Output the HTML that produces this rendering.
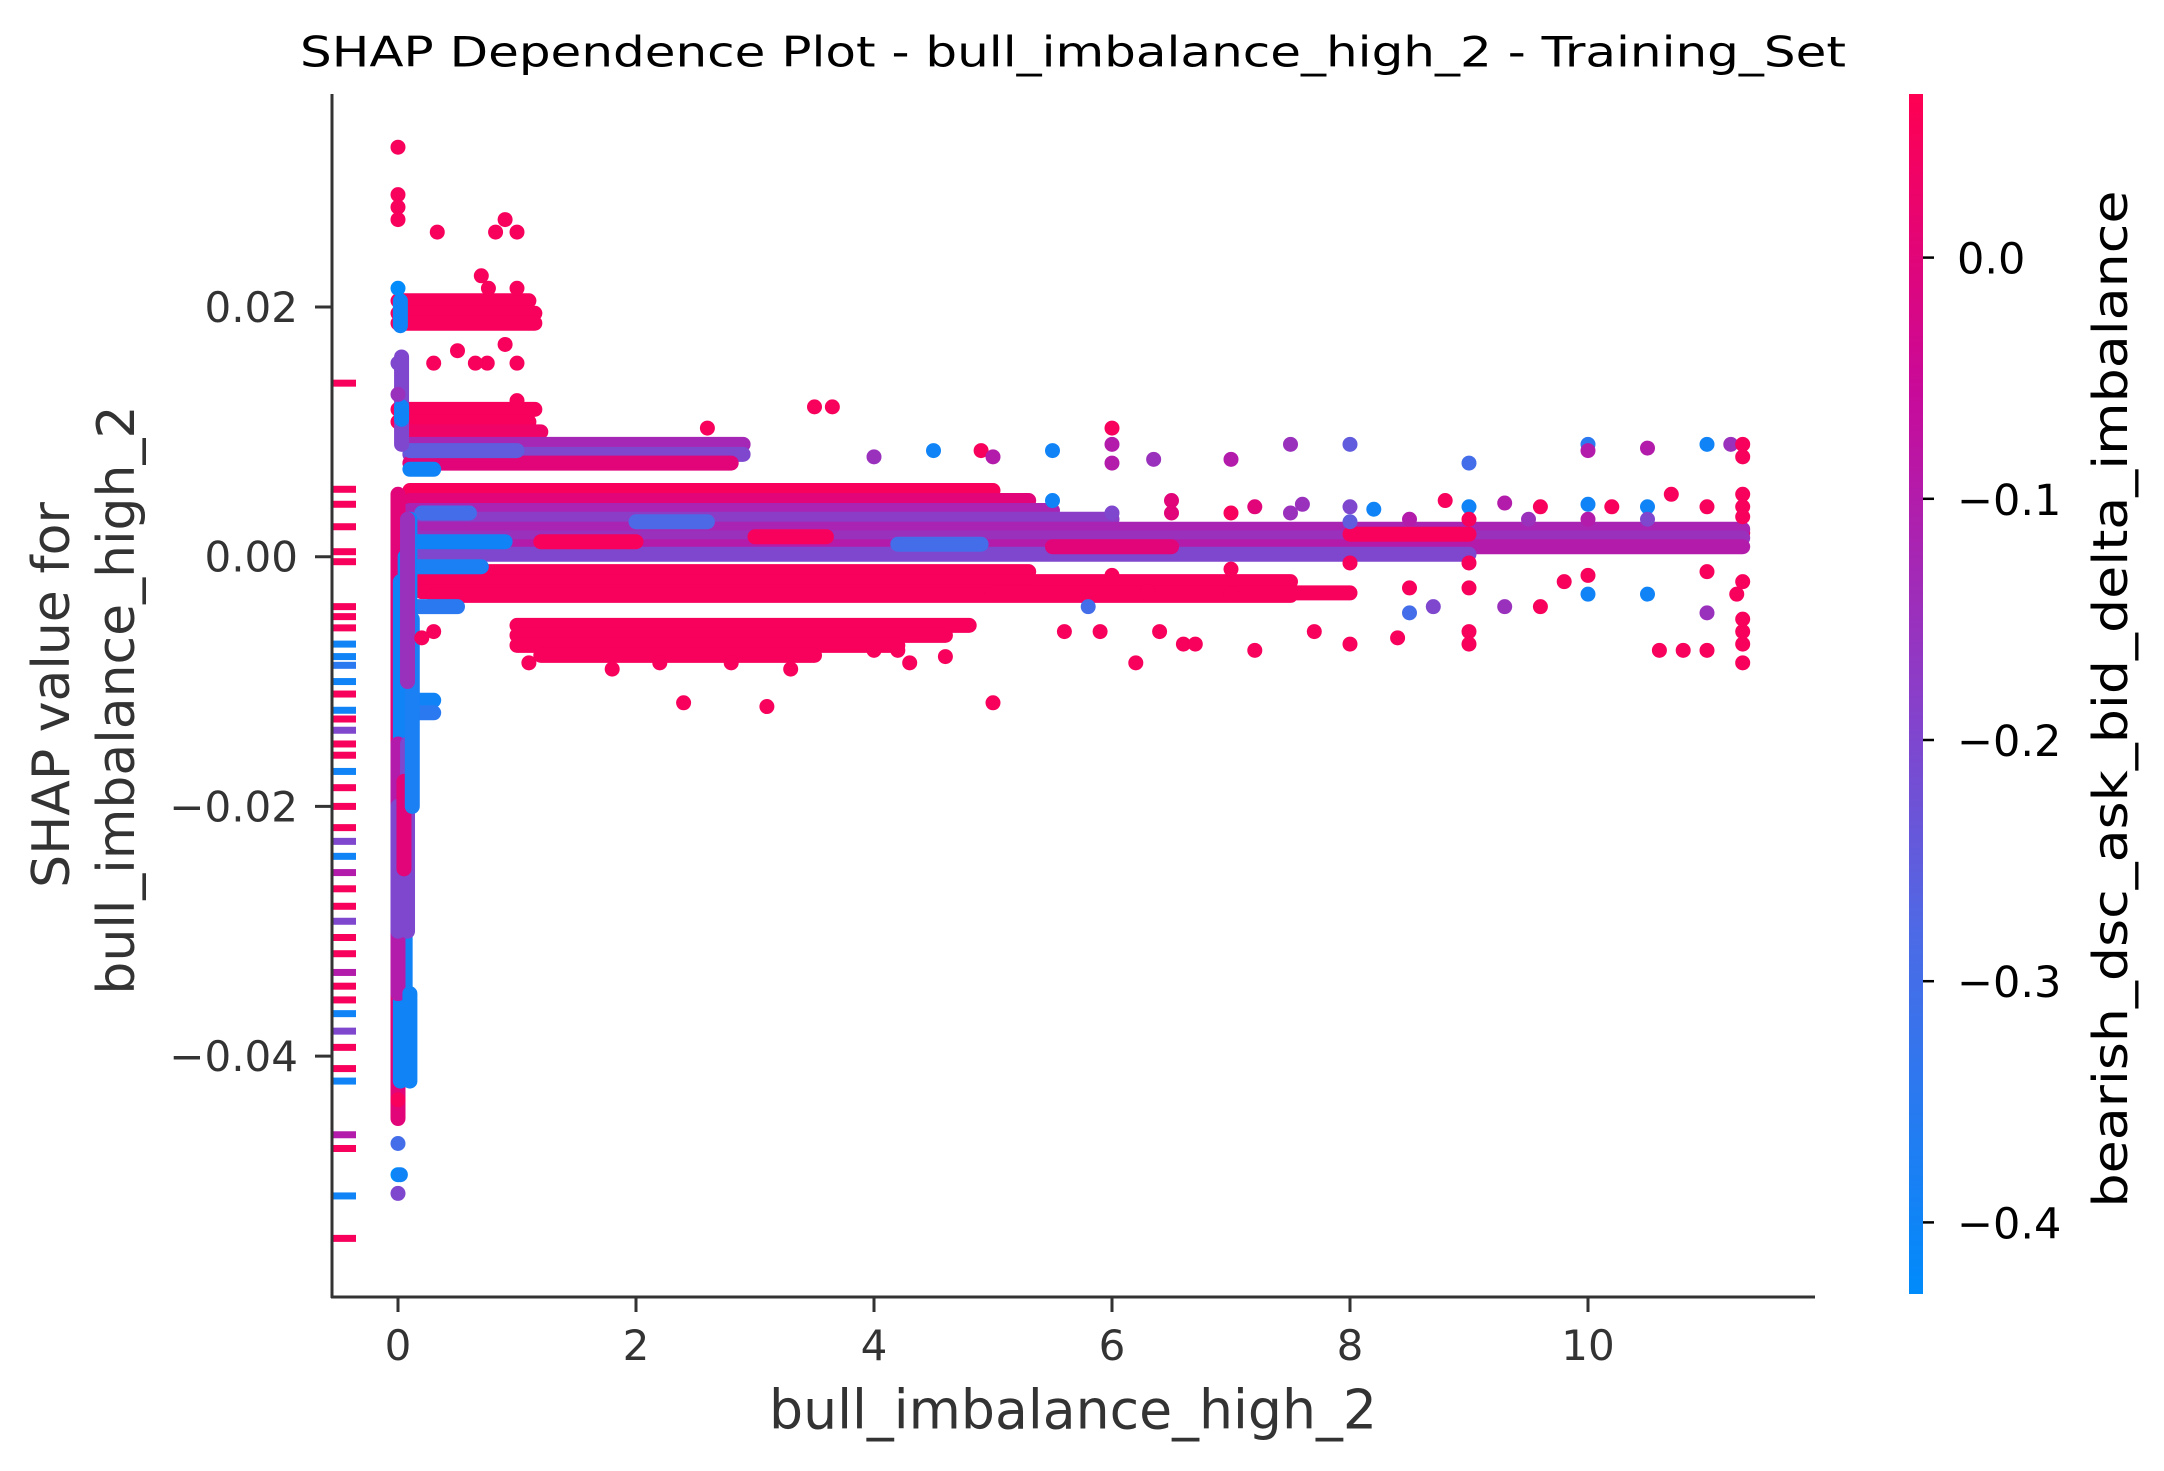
<!DOCTYPE html>
<html>
<head>
<meta charset="utf-8">
<style>
  html,body{margin:0;padding:0;background:#fff;}
  svg{display:block;font-family:"DejaVu Sans","Liberation Sans",sans-serif;}
</style>
</head>
<body>
<svg id="chart" width="2164" height="1471" viewBox="0 0 2164 1471" xmlns="http://www.w3.org/2000/svg">
  <defs>
    <linearGradient id="cbgrad" x1="0" y1="1" x2="0" y2="0">
      <stop offset="0" stop-color="#008bfb"/>
      <stop offset="0.3" stop-color="#4d6ae6"/>
      <stop offset="0.5" stop-color="#8a3ec9"/>
      <stop offset="0.75" stop-color="#c80a9a"/>
      <stop offset="1" stop-color="#ff0052"/>
    </linearGradient>
  </defs>
  <text x="1073" y="52" text-anchor="middle" dominant-baseline="central" font-size="42" fill="#000" textLength="1546" lengthAdjust="spacingAndGlyphs">SHAP Dependence Plot - bull_imbalance_high_2 - Training_Set</text>
  <g id="rug"></g>
  <g id="marks"></g>
  <line x1="332" y1="94" x2="332" y2="1298" stroke="#333" stroke-width="3"/>
  <line x1="331" y1="1297" x2="1815" y2="1297" stroke="#333" stroke-width="3"/>
  <g id="xticks"></g>
  <g id="yticks"></g>
  <text x="1073" y="1410" text-anchor="middle" dominant-baseline="central" font-size="54" fill="#333" textLength="608" lengthAdjust="spacingAndGlyphs">bull_imbalance_high_2</text>
  <text transform="translate(52,695) rotate(-90)" text-anchor="middle" dominant-baseline="central" font-size="52" fill="#333">SHAP value for</text>
  <text transform="translate(117,700) rotate(-90)" text-anchor="middle" dominant-baseline="central" font-size="52" fill="#333">bull_imbalance_high_2</text>
  <rect x="1909" y="94" width="14" height="1200" fill="url(#cbgrad)"/>
  <g id="cbticks"></g>
  <text transform="translate(2111,699) rotate(-90)" text-anchor="middle" dominant-baseline="central" font-size="48" fill="#000" textLength="1017" lengthAdjust="spacingAndGlyphs">bearish_dsc_ask_bid_delta_imbalance</text>
</svg>
<script>
// ---- data ----
const xTicks = [0, 2, 4, 6, 8, 10];
const yTicks = [0.02, 0.00, -0.02, -0.04];
const cbTicks = [0.0, -0.1, -0.2, -0.3, -0.4];
// dense horizontal runs of overlapping points: [xStart, xEnd, shap, colorValue]
const runStart = [0.0,0.0,0.0, 0.0,0.0,0.05, 0.1,0.1,0.1, 0.1,0.1,5.5, 0.1,0.1,0.1,0.1,0.1,0.1, 0.1,0.2,0.2,0.3,5.0, 1.0,1.0,1.0,1.2, 0.05,0.05,
  0.1,0.15,0.1,0.2,0.1,0.1, 1.2,3.0,5.5,8.0,2.0,4.2];
const runEnd   = [1.1,1.15,1.15, 1.15,1.1,1.2, 2.9,2.9,2.8, 5.0,5.3,11.3, 5.5,6.0,11.3,11.3,11.3,9.0, 5.3,7.5,5.3,7.5,8.0, 4.8,4.6,4.2,3.5, 0.3,0.3,
  0.9,0.7,0.5,0.6,0.3,1.0, 2.0,3.6,6.5,9.0,2.6,4.9];
const runShap  = [0.0205,0.0195,0.0187, 0.0118,0.0108,0.0100, 0.0090,0.0082,0.0075, 0.0053,0.0045,0.0019, 0.0037,0.0030,0.0022,0.0015,0.0008,0.0002, -0.0012,-0.0020,-0.0028,-0.0031,-0.0029, -0.0055,-0.0063,-0.0071,-0.0079, -0.0115,-0.0125,
  0.0012,-0.0008,-0.0040,0.0035,0.0070,0.0085, 0.0012,0.0016,0.0008,0.0018,0.0028,0.0010];
const runColor = [0.05,0.05,0.05, 0.05,0.05,0.03, -0.13,-0.2,0.0, 0.05,0.0,0.05, -0.12,-0.18,-0.12,-0.15,-0.1,-0.2, 0.05,0.05,0.05,0.05,0.05, 0.05,0.05,0.05,0.05, -0.4,-0.35,
  -0.4,-0.38,-0.35,-0.3,-0.4,-0.25, 0.05,0.05,0.0,0.05,-0.28,-0.3];
// vertical runs near x=0: [x, shapStart, shapEnd, colorValue]
const colX     = [0.0, 0.02, 0.06, 0.0, 0.1, 0.03, 0.02, 0.03, 0.0, 0.08, 0.1, 0.05, 0.12, 0.08];
const colStart = [-0.045, -0.042, -0.040, -0.035, -0.005, 0.009, 0.0185, 0.011, -0.030, -0.030, -0.042, -0.025, -0.020, -0.010];
const colEnd   = [0.005, -0.002, 0.000, -0.015, 0.003, 0.016, 0.0205, 0.012, -0.020, -0.015, -0.035, -0.018, -0.005, 0.003];
const colColor = [0.0, -0.4, -0.4, -0.1, -0.4, -0.2, -0.4, -0.4, -0.2, -0.2, -0.4, 0.0, -0.38, -0.15];
// individual points
const ptX = [0,0,0,0,0.33,0.82,0.9,1.0,0.7,0.76,1.0,0,0.5,0.9,1.0,0.3,0.75,0.65,1.0,0,0,3.5,3.65,2.6,6.0,
  0,0,0,0,0.02,2.4,3.1,5.0,
  4.5,5.5,6.0,6.35,7.0,7.5,8.0,9.0,10.0,10.5,11.0,11.2,11.3,11.3,10.0,4.0,4.9,5.0,
  6.5,7.2,8.0,8.2,8.8,9.0,9.3,9.6,10.0,10.2,10.5,10.7,11.0,11.3,11.3,7.6,
  5.6,5.9,6.2,6.6,7.2,7.7,8.0,8.4,8.5,8.7,9.0,9.0,9.3,9.6,10.0,10.5,10.6,10.8,11.0,11.0,11.3,11.3,11.3,11.3,11.25,8.5,9.0,9.8,7.0,6.7,6.4,5.8,6.3,
  1.1,1.8,2.2,2.8,3.3,4.0,4.2,4.6,4.3,0.3,0.2,
  6.0,6.0,7.0,7.5,8.0,9.0,9.0,10.0,10.0,11.3,11.3,5.5,6.5,7.0,8.5,9.5,10.5,11.0,6.0,8.0];
const ptY = [0.0328,0.029,0.028,0.027,0.026,0.026,0.027,0.026,0.0225,0.0215,0.0215,0.0215,0.0165,0.017,0.0155,0.0155,0.0155,0.0155,0.0125,0.0155,0.013,0.012,0.012,0.0103,0.0103,
  -0.0435,-0.047,-0.0495,-0.051,-0.0495,-0.0117,-0.012,-0.0117,
  0.0085,0.0085,0.009,0.0078,0.0078,0.009,0.009,0.0075,0.009,0.0087,0.009,0.009,0.009,0.008,0.0085,0.008,0.0085,0.008,
  0.0045,0.004,0.004,0.0038,0.0045,0.004,0.0043,0.004,0.0042,0.004,0.004,0.005,0.004,0.005,0.004,0.0042,
  -0.006,-0.006,-0.0085,-0.007,-0.0075,-0.006,-0.007,-0.0065,-0.0045,-0.004,-0.006,-0.007,-0.004,-0.004,-0.003,-0.003,-0.0075,-0.0075,-0.0045,-0.0075,-0.0085,-0.007,-0.006,-0.005,-0.003,-0.0025,-0.0025,-0.002,-0.003,-0.007,-0.006,-0.004,-0.0028,
  -0.0085,-0.009,-0.0085,-0.0085,-0.009,-0.0075,-0.0075,-0.008,-0.0085,-0.006,-0.0065,
  0.0075,0.0035,0.0035,0.0035,0.0028,0.003,-0.0005,0.003,-0.0015,0.0032,-0.002,0.0045,0.0035,-0.001,0.003,0.003,0.003,-0.0012,-0.0015,-0.0005];
const ptC = [0.05,0.05,0.05,0.05,0.05,0.05,0.05,0.05,0.05,0.05,0.05,-0.43,0.05,0.05,0.05,0.05,0.05,0.05,0.05,-0.2,-0.15,0.05,0.05,0.05,0.05,
  0.05,-0.3,-0.43,-0.2,-0.4,0.05,0.05,0.05,
  -0.4,-0.4,-0.1,-0.15,-0.1,-0.15,-0.25,-0.3,-0.35,-0.1,-0.4,-0.15,0.05,0.05,-0.1,-0.15,0.05,-0.1,
  0.0,0.0,-0.2,-0.4,0.05,-0.4,-0.1,0.05,-0.4,0.05,-0.4,0.05,0.05,0.05,0.05,-0.15,
  0.05,0.05,0.05,0.05,0.05,0.05,0.05,0.05,-0.3,-0.2,0.05,0.05,-0.15,0.05,-0.4,-0.4,0.05,0.05,-0.15,0.05,0.05,0.05,0.05,0.05,0.05,0.05,0.05,0.05,0.05,0.05,0.05,-0.3,0.05,
  0.05,0.05,0.05,0.05,0.05,0.05,0.05,0.05,0.05,0.05,0.05,
  -0.1,-0.2,0.05,-0.15,-0.25,0.05,0.05,-0.1,0.05,0.05,0.05,-0.4,0.0,0.05,-0.1,-0.15,-0.2,0.05,0.05,0.05];
// rug marks for missing feature values: shap value + color value
const rugShap = [0.0139,0.0054,0.0042,0.0024,0.0004,-0.0004,-0.004,-0.0048,-0.0057,-0.007,-0.008,-0.0087,-0.010,-0.011,-0.0123,-0.013,-0.0139,-0.015,-0.0159,-0.0172,-0.0185,-0.020,-0.0217,-0.0228,-0.024,-0.0253,-0.0266,-0.028,-0.0292,-0.0305,-0.0318,-0.0333,-0.0344,-0.0355,-0.0366,-0.038,-0.0393,-0.041,-0.042,-0.0463,-0.0474,-0.0512,-0.0546];
const rugColor = [0.05,0.05,0.05,0.05,0.05,0.05,0.05,0.05,0.05,-0.4,-0.4,-0.35,-0.4,0.05,-0.4,0.05,-0.2,0.05,0.05,-0.4,0.05,0.05,0.05,-0.2,-0.4,-0.1,0.05,0.05,-0.2,0.05,0.05,-0.1,0.05,0.05,-0.4,-0.2,0.05,0.05,-0.4,-0.1,0.05,-0.4,0.05];

// ---- scales ----
const NS = 'http://www.w3.org/2000/svg';
function sx(v){ return 398 + v * 119; }
function sy(v){ return 556.7 - v * 12485; }
function cbY(v){ return 257.6 - v * 2412; }
const cMin = -0.431, cMax = 0.067;
const stops = [[0,[0,139,251]],[0.3,[77,106,230]],[0.5,[138,62,201]],[0.75,[200,10,154]],[1,[255,0,82]]];
function colorOf(v){
  let t = (v - cMin) / (cMax - cMin); t = Math.max(0, Math.min(1, t));
  for (let i = 1; i < stops.length; i++) {
    if (t <= stops[i][0]) {
      const a = stops[i-1], b = stops[i], f = (t - a[0]) / (b[0] - a[0]);
      const c = a[1].map((q, k) => Math.round(q + (b[1][k] - q) * f));
      return 'rgb(' + c.join(',') + ')';
    }
  }
  return 'rgb(255,0,82)';
}
function mk(tag, attrs, parent){
  const e = document.createElementNS(NS, tag);
  for (const k in attrs) e.setAttribute(k, attrs[k]);
  parent.appendChild(e); return e;
}
const marks = document.getElementById('marks');
const rug = document.getElementById('rug');
const R = 7.5;

rugShap.forEach((v, i) => {
  const e = mk('rect', {x: 333, y: sy(v) - 3.5, width: 23, height: 7, fill: colorOf(rugColor[i])}, rug);
  
  
});
runStart.forEach((x0, i) => {
  const e = mk('line', {x1: sx(x0), x2: sx(runEnd[i]), y1: sy(runShap[i]), y2: sy(runShap[i]), stroke: colorOf(runColor[i]), 'stroke-width': 2 * R, 'stroke-linecap': 'round'}, marks);
  
  
});
colX.forEach((x, i) => {
  const e = mk('line', {x1: sx(x), x2: sx(x), y1: sy(colStart[i]), y2: sy(colEnd[i]), stroke: colorOf(colColor[i]), 'stroke-width': 2 * R, 'stroke-linecap': 'round'}, marks);
  
  
});
ptX.forEach((x, i) => {
  const e = mk('circle', {cx: sx(x), cy: sy(ptY[i]), r: R, fill: colorOf(ptC[i])}, marks);
  
  
});

const xt = document.getElementById('xticks');
xTicks.forEach(v => {
  const l = mk('line', {x1: sx(v), x2: sx(v), y1: 1297, y2: 1312, stroke: '#333', 'stroke-width': 3}, xt);
  
  
  const t = mk('text', {x: sx(v), y: 1360, 'text-anchor': 'middle', 'font-size': 42, fill: '#333'}, xt);
  t.textContent = String(v);
  
  
});
const yt = document.getElementById('yticks');
yTicks.forEach(v => {
  const l = mk('line', {x1: 315, x2: 332, y1: sy(v), y2: sy(v), stroke: '#333', 'stroke-width': 3}, yt);
  
  
  const t = mk('text', {x: 298, y: sy(v) + 15, 'text-anchor': 'end', 'font-size': 42, fill: '#333'}, yt);
  t.textContent = (v < 0 ? '\u2212' : '') + Math.abs(v).toFixed(2);
  
  
});
const ct = document.getElementById('cbticks');
cbTicks.forEach(v => {
  const l = mk('line', {x1: 1923, x2: 1934, y1: cbY(v), y2: cbY(v), stroke: '#000', 'stroke-width': 2.5}, ct);
  
  
  const t = mk('text', {x: 1957, y: cbY(v) + 16, 'text-anchor': 'start', 'font-size': 43, fill: '#000'}, ct);
  t.textContent = (v < 0 ? '\u2212' : '') + Math.abs(v).toFixed(1);
  
  
});
</script>
</body>
</html>
